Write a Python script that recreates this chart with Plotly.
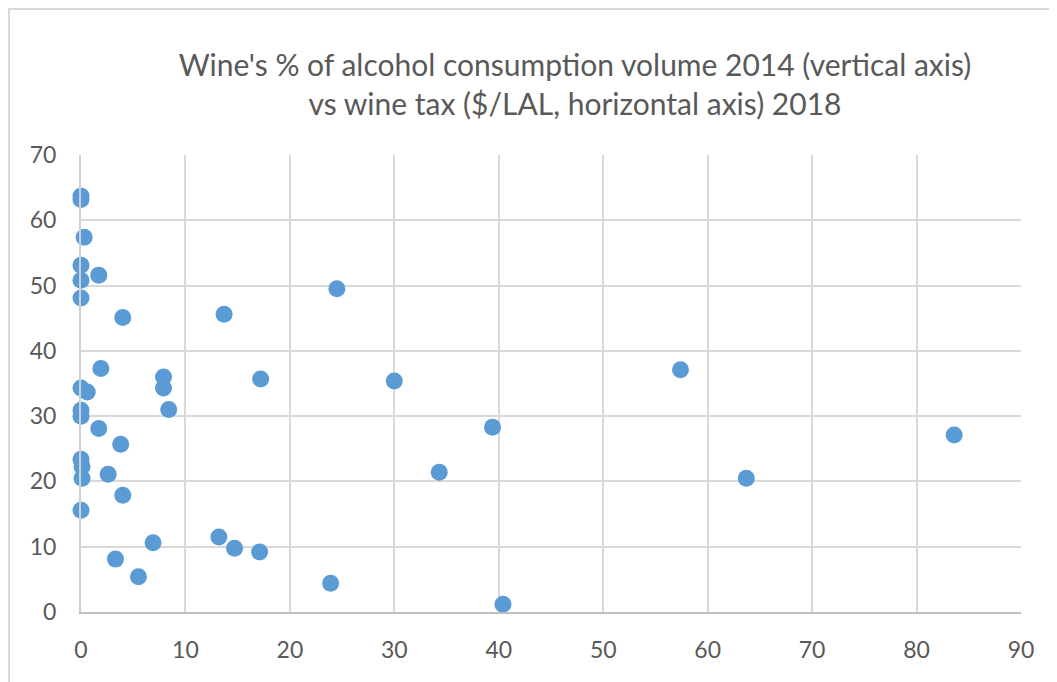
import plotly.graph_objects as go

wine_tax = [0, 0, 0.3, 0, 0, 1.7, 0, 4.0, 13.7, 1.9, 7.9, 7.9, 0, 0.6, 8.4, 0, 0, 1.7, 3.8,
            0, 0.1, 2.6, 0.1, 4.0, 0, 6.9, 13.2, 14.7, 3.3, 5.5,
            24.5, 17.2, 30.0, 39.4, 34.3, 57.4, 63.7, 83.6, 17.1, 23.9, 40.4]
wine_share = [63.7, 63.2, 57.4, 53.1, 50.8, 51.6, 48.1, 45.1, 45.6, 37.3, 36.0, 34.3, 34.3, 33.7, 31.0, 30.9, 30.0, 28.1, 25.7,
              23.4, 22.3, 21.1, 20.5, 17.9, 15.6, 10.6, 11.5, 9.75, 8.1, 5.4,
              49.5, 35.7, 35.4, 28.3, 21.4, 37.1, 20.5, 27.1, 9.2, 4.4, 1.2]

x_ticks = list(range(0, 91, 10))
y_ticks = list(range(0, 71, 10))

title_text = "Wine's % of alcohol consumption volume 2014 (vertical axis)<br>vs wine tax ($/LAL, horizontal axis) 2018"

# plot area in page pixels: x 81..1021, y 155..612 (page has an 8px body margin)
L, T, R, B = 81, 155, 1021, 612
OFF = 8
W, H = 1057, 682

fig = go.Figure()
fig.add_trace(go.Scatter(
    x=wine_tax, y=wine_share, mode="markers",
    marker=dict(size=17, color="#5B9BD5", line=dict(width=0)),
    showlegend=False, cliponaxis=False,
))

font_family = "Lato, Liberation Sans, sans-serif"

fig.update_layout(
    width=W, height=H,
    margin=dict(l=L - OFF, r=W - R + OFF, t=T - OFF, b=H - B + OFF),
    paper_bgcolor="white", plot_bgcolor="white",
    title=dict(text=title_text, x=(575 - OFF) / W, xanchor="center",
               y=1 - (76 - OFF) / H, yanchor="middle",
               font=dict(family=font_family, size=30, color="#595959")),
    font=dict(family=font_family, color="#595959", size=23),
    xaxis=dict(range=[0, 90], tickvals=x_ticks, showgrid=True, gridcolor="#D9D9D9", gridwidth=2,
               zeroline=False, showline=True, linecolor="#BFBFBF", linewidth=2,
               ticks="outside", ticklen=16, tickcolor="rgba(0,0,0,0)", fixedrange=True),
    yaxis=dict(range=[0, 70], tickvals=y_ticks, showgrid=True, gridcolor="#D9D9D9", gridwidth=2,
               zeroline=False, showline=True, linecolor="#D0D0D0", linewidth=2,
               ticks="outside", ticklen=18, tickcolor="rgba(0,0,0,0)", fixedrange=True),
    shapes=[dict(type="rect", xref="paper", yref="paper",
                 x0=(OFF + 1 - L) / (R - L), x1=(1075 - L) / (R - L),
                 y0=(B - 700) / (B - T), y1=(B - OFF - 1) / (B - T),
                 line=dict(color="#D9D9D9", width=2), layer="below")],
)

fig.write_html("out.html")
